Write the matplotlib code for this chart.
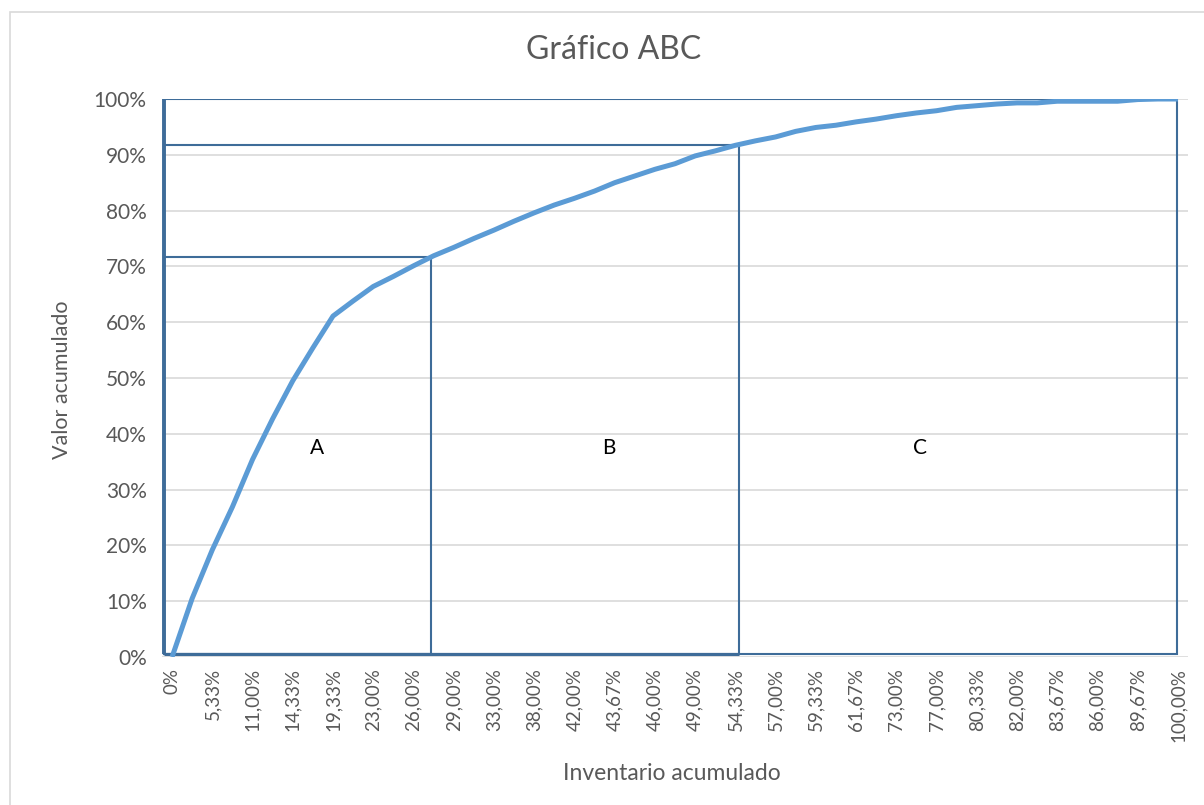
import matplotlib
matplotlib.use("Agg")
import matplotlib.pyplot as plt
from matplotlib.patches import Rectangle
from matplotlib.ticker import FuncFormatter

# Cumulative share of inventory (category labels, shown every second item)
x_labels = ["0%", "5,33%", "11,00%", "14,33%", "19,33%", "23,00%", "26,00%",
            "29,00%", "33,00%", "38,00%", "42,00%", "43,67%", "46,00%",
            "49,00%", "54,33%", "57,00%", "59,33%", "61,67%", "73,00%",
            "77,00%", "80,33%", "82,00%", "83,67%", "86,00%", "89,67%",
            "100,00%"]

# Cumulative value (%) for each inventory item
cum_value = [0.0, 10.5, 19.2, 26.9, 35.4, 42.7, 49.5, 55.4, 61.1, 63.8,
             66.4, 68.2, 70.1, 71.9, 73.4, 75.0, 76.5, 78.1, 79.6, 81.0,
             82.2, 83.5, 85.0, 86.2, 87.4, 88.4, 89.8, 90.7, 91.7, 92.5,
             93.2, 94.2, 94.9, 95.3, 95.9, 96.4, 97.0, 97.5, 97.9, 98.5,
             98.8, 99.1, 99.3, 99.3, 99.6, 99.6, 99.6, 99.6, 99.9, 100.0,
             100.0]

# ABC class boxes: right edge (item position) and value threshold (%)
class_names = ["A", "B", "C"]
class_x_end = [12.87, 28.18, 49.95]
class_y_top = [71.6, 91.8, 100.0]
class_label_x = [7.2, 21.7, 37.2]
class_label_y = 37.5
box_x_start = -0.38
box_y_start = 0.5

TEXT = "#595959"
BOX = "#3E6C99"
plt.rcParams["font.family"] = ["Lato", "DejaVu Sans"]

fig = plt.figure(figsize=(12.04, 8.05), dpi=100)
ax = fig.add_axes([162 / 1204, 1 - 657 / 805, (1188 - 162) / 1204, (657 - 99) / 805])

xs = list(range(len(cum_value)))
ax.set_xlim(-0.5, len(cum_value) - 0.5)
ax.set_ylim(0, 100)

ax.set_yticks(range(0, 101, 10))
ax.yaxis.set_major_formatter(FuncFormatter(lambda v, p: f"{v:.0f}%"))
ax.grid(axis="y", color="#d9d9d9", linewidth=1.2, zorder=0)
ax.set_axisbelow(True)

ax.set_xticks(xs[::2])
ax.set_xticklabels(x_labels, rotation=90, va="top", ha="center")
ax.tick_params(axis="x", length=0, pad=8, labelsize=13.5, labelcolor=TEXT)
ax.tick_params(axis="y", length=0, pad=11, labelsize=15, labelcolor=TEXT)
for s in ax.spines.values():
    s.set_visible(False)

# Class boxes
for xe, yt in zip(class_x_end, class_y_top):
    ax.add_patch(Rectangle((box_x_start, box_y_start), xe - box_x_start,
                           yt - box_y_start, fill=False,
                           edgecolor=BOX, linewidth=1.5, zorder=2))
ax.plot([box_x_start, box_x_start], [box_y_start, 100],
        color=BOX, linewidth=2.8, zorder=2, solid_capstyle="butt")
ax.plot([box_x_start, class_x_end[1]], [box_y_start, box_y_start],
        color=BOX, linewidth=2.2, zorder=2, solid_capstyle="butt")

for name, lx in zip(class_names, class_label_x):
    ax.text(lx, class_label_y, name, ha="center", va="center",
            fontsize=15, color="black", zorder=4)

# Cumulative curve
ax.plot(xs, cum_value, color="#5B9BD5", linewidth=3.6, zorder=3,
        solid_joinstyle="round", solid_capstyle="butt")

fig.text(614 / 1204, 1 - 50 / 805, "Gráfico ABC", ha="center", va="center",
         fontsize=23, color=TEXT)
fig.text(672 / 1204, 1 - 773 / 805, "Inventario acumulado", ha="center",
         va="center", fontsize=16.5, color=TEXT)
fig.text(62 / 1204, 1 - 380 / 805, "Valor acumulado", ha="center",
         va="center", rotation=90, fontsize=15.5, color=TEXT)

# Chart area border
fig.add_artist(Rectangle((10 / 1204, -0.05), 1.1, 1 - 12 / 805 + 0.05,
                         transform=fig.transFigure, fill=False,
                         edgecolor="#d9d9d9", linewidth=1.2))

fig.savefig("out.png", dpi=100)
